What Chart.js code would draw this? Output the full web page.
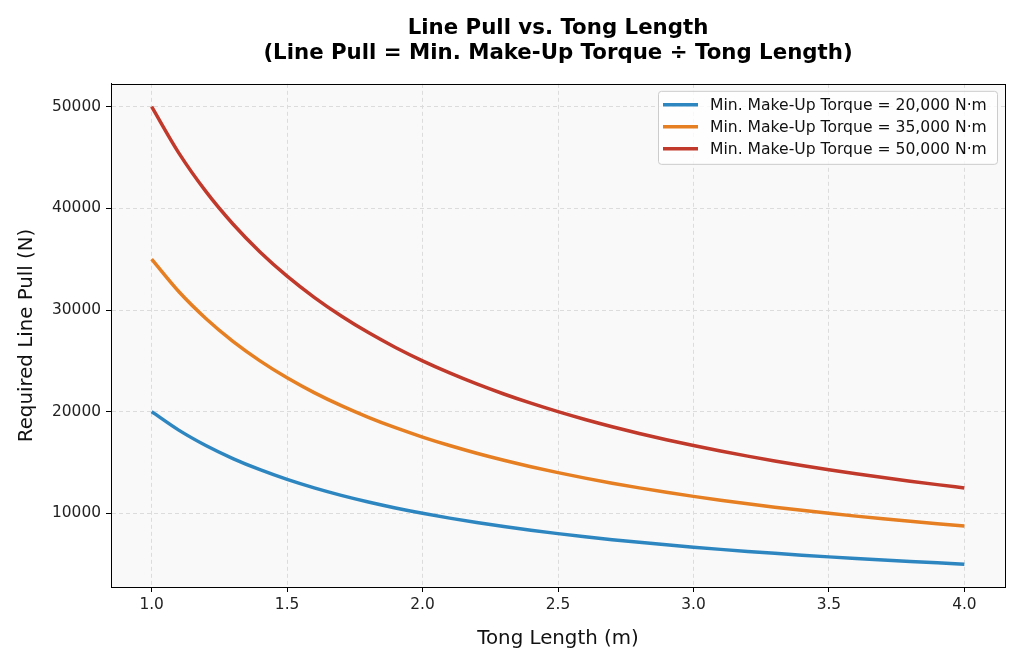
<!DOCTYPE html>
<html>
<head>
<meta charset="utf-8">
<script src="https://cdn.jsdelivr.net/npm/chart.js@4.4.1/dist/chart.umd.min.js"></script>
<style>
  html, body { margin: 0; padding: 0; background: #fff; }
  #wrap { width: 1024px; height: 663px; }
</style>
</head>
<body>
<div id="wrap"><canvas id="pull-chart" width="1024" height="663"></canvas></div>
<script>
// tong length (m)
const tongLength = [1.0, 1.1, 1.2, 1.3, 1.4, 1.5, 1.6, 1.7, 1.8, 1.9, 2.0,
    2.1, 2.2, 2.3, 2.4, 2.5, 2.6, 2.7, 2.8, 2.9, 3.0,
    3.1, 3.2, 3.3, 3.4, 3.5, 3.6, 3.7, 3.8, 3.9, 4.0];
const pull20k = [20000, 18182, 16667, 15385, 14286, 13333, 12500, 11765, 11111, 10526, 10000,
    9524, 9091, 8696, 8333, 8000, 7692, 7407, 7143, 6897, 6667,
    6452, 6250, 6061, 5882, 5714, 5556, 5405, 5263, 5128, 5000];
const pull35k = [35000, 31818, 29167, 26923, 25000, 23333, 21875, 20588, 19444, 18421, 17500,
    16667, 15909, 15217, 14583, 14000, 13462, 12963, 12500, 12069, 11667,
    11290, 10938, 10606, 10294, 10000, 9722, 9459, 9211, 8974, 8750];
const pull50k = [50000, 45455, 41667, 38462, 35714, 33333, 31250, 29412, 27778, 26316, 25000,
    23810, 22727, 21739, 20833, 20000, 19231, 18519, 17857, 17241, 16667,
    16129, 15625, 15152, 14706, 14286, 13889, 13514, 13158, 12821, 12500];
const seriesLabels = ['Min. Make-Up Torque = 20,000 N·m',
    'Min. Make-Up Torque = 35,000 N·m',
    'Min. Make-Up Torque = 50,000 N·m'];
const xTicks = [1.0, 1.5, 2.0, 2.5, 3.0, 3.5, 4.0];
const yTicks = [10000, 20000, 30000, 40000, 50000];

const FONT = "'DejaVu Sans', sans-serif";

function toPoints(ys) {
    return tongLength.map((x, i) => ({ x: x, y: ys[i] }));
}

// plot background, frame on top/right and the legend box
const framePlugin = {
    id: 'frame',
    beforeDraw(chart) {
        const a = chart.chartArea, c = chart.ctx;
        c.save();
        c.fillStyle = '#f9f9f9';
        c.fillRect(a.left, a.top, a.right - a.left, a.bottom - a.top);
        c.restore();
    },
    afterDraw(chart) {
        const a = chart.chartArea, c = chart.ctx;
        c.save();
        c.strokeStyle = '#000';
        c.lineWidth = 1;
        c.strokeRect(Math.round(a.left) + 0.5, Math.round(a.top) + 0.5,
            Math.round(a.right - a.left), Math.round(a.bottom - a.top));

        const ds = chart.data.datasets;
        const bx = a.right - 347, by = a.top + 7, bw = 339, bh = 73;
        c.fillStyle = 'rgba(255,255,255,0.8)';
        c.strokeStyle = '#cccccc';
        c.lineWidth = 1;
        c.beginPath();
        c.roundRect(bx + 0.5, by + 0.5, bw, bh, 3);
        c.fill();
        c.stroke();
        c.font = '15.6px ' + FONT;
        c.textBaseline = 'middle';
        ds.forEach((d, i) => {
            const y = by + 14 + i * 22;
            c.strokeStyle = d.borderColor;
            c.lineWidth = 3.5;
            c.beginPath();
            c.moveTo(bx + 5, y);
            c.lineTo(bx + 40, y);
            c.stroke();
            c.fillStyle = '#111';
            c.fillText(d.label, bx + 52, y + 1);
        });
        c.restore();
    }
};

document.addEventListener('DOMContentLoaded', () => {
    renderPullChart();
});

function renderPullChart() {
    const ctx = document.getElementById('pull-chart').getContext('2d');
    const colors = ['#2e86c1', '#e67e22', '#c0392b'];
    const series = [pull20k, pull35k, pull50k];

    new Chart(ctx, {
        type: 'line',
        data: {
            datasets: series.map((ys, i) => ({
                label: seriesLabels[i],
                data: toPoints(ys),
                borderColor: colors[i],
                backgroundColor: colors[i],
                borderWidth: 3.5,
                pointRadius: 0,
                cubicInterpolationMode: 'monotone',
                fill: false
            }))
        },
        options: {
            responsive: false,
            animation: false,
            layout: { padding: { left: 10, right: 19, bottom: 8, top: 0 } },
            plugins: {
                legend: { display: false },
                tooltip: { enabled: false },
                title: {
                    display: true,
                    fullSize: false,
                    text: ['Line Pull vs. Tong Length', '(Line Pull = Min. Make-Up Torque ÷ Tong Length)'],
                    color: '#000',
                    font: { family: FONT, size: 21.3, weight: 'bold', lineHeight: 1.17 },
                    padding: { top: 16, bottom: 18 }
                }
            },
            scales: {
                x: {
                    type: 'linear',
                    min: 0.85,
                    max: 4.15,
                    afterBuildTicks: (s) => { s.ticks = xTicks.map(v => ({ value: v })); },
                    afterFit: (s) => { s.height = 68; },
                    ticks: {
                        color: '#222',
                        font: { family: FONT, size: 15.4 },
                        padding: 4,
                        callback: (v) => v.toFixed(1)
                    },
                    grid: {
                        color: '#dcdcdc',
                        tickColor: '#000',
                        tickLength: 5,
                        tickBorderDash: [],
                        lineWidth: 1
                    },
                    border: { display: true, color: '#000', width: 1, dash: [4, 3] },
                    title: {
                        display: true,
                        text: 'Tong Length (m)',
                        color: '#111',
                        font: { family: FONT, size: 19.8 },
                        padding: { top: 10 }
                    }
                },
                y: {
                    type: 'linear',
                    min: 2750,
                    max: 52250,
                    afterBuildTicks: (s) => { s.ticks = yTicks.map(v => ({ value: v })); },
                    afterFit: (s) => { s.width = 101; },
                    ticks: {
                        color: '#222',
                        font: { family: FONT, size: 15.4 },
                        padding: 5,
                        callback: (v) => String(v)
                    },
                    grid: {
                        color: '#dcdcdc',
                        tickColor: '#000',
                        tickLength: 5,
                        tickBorderDash: [],
                        lineWidth: 1
                    },
                    border: { display: true, color: '#000', width: 1, dash: [4, 3] },
                    title: {
                        display: true,
                        text: 'Required Line Pull (N)',
                        color: '#111',
                        font: { family: FONT, size: 19.8 },
                        padding: { top: 5, bottom: 6 }
                    }
                }
            }
        },
        plugins: [framePlugin]
    });
}
</script>
</body>
</html>
